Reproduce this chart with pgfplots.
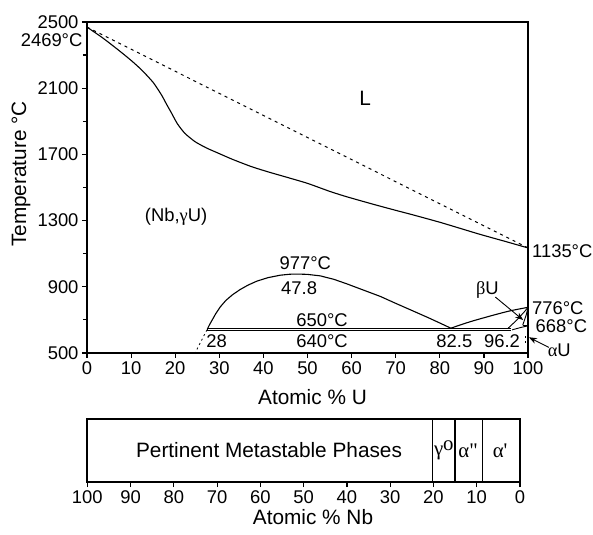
\documentclass[border=0pt]{standalone}
\usepackage{pgfplots}
\pgfplotsset{compat=1.18}
\usepackage{fontspec}
\setmainfont{Liberation Sans}
\newfontfamily\grk{Liberation Serif}
\usetikzlibrary{arrows.meta}
\newcommand{\tk}{\fontsize{18.4bp}{22bp}\selectfont}
\newcommand{\lb}{\fontsize{20.8bp}{24bp}\selectfont}
\begin{document}
\begin{tikzpicture}
\path[use as bounding box] (0,0) rectangle (593bp,535bp);
\begin{axis}[at={(87bp,182bp)},anchor=south west,scale only axis,
  width=441bp,height=331bp,xmin=0,xmax=100,ymin=500,ymax=2500,
  xtick={0,10,...,100},ytick={500,900,...,2500},minor ytick={700,1100,...,2300},
  tick pos=left,tick align=outside,major tick length=5bp,minor tick length=4bp,
  tick style={line width=1.2bp,black},ticklabel style={font=\tk},
  /pgf/number format/assume math mode=true,/pgf/number format/1000 sep={},
  clip=false,axis line style={line width=1.6bp}]
% liquidus (dashed)
\addplot[black,line width=1bp,dash pattern=on 3bp off 4bp] coordinates {(0,2469) (100,1135)};
% solidus
\addplot[black,line width=1.1bp,smooth,tension=0.4] coordinates {
(0,2469) (3.5,2405) (7.1,2331) (10,2268) (12.4,2210) (15,2135) (16.9,2059) (18,2005)
(19.2,1948) (20.5,1885) (22.2,1827) (24.5,1777) (27,1740) (29.8,1707) (33,1670)
(37.3,1626) (41,1595) (44.9,1565) (50,1525) (55,1477) (58.9,1444) (65,1398)
(70,1362) (74,1334) (80,1290) (85,1250) (89.1,1217) (95,1173) (100,1135)};
% miscibility gap dome
\addplot[black,line width=1.1bp] coordinates {
(27.3,645) (27.8,672) (28.4,700) (29.2,738) (30.2,778) (31.5,818) (33,852)
(34.7,883) (36.5,910) (38.5,934) (41,955) (43.8,970) (46,976) (47.8,977)
(50,975) (52.9,966) (56,945) (58.9,918) (62,887) (66.5,842) (70,800)
(74.1,752) (77.5,712) (80.1,680) (82.5,650)};
% beta U boundary
\addplot[black,line width=1.1bp,smooth] coordinates {(82.5,650) (86.9,689) (92.2,729) (96,755) (100,776)};
% monotectoid double line
\addplot[black,line width=0.9bp] coordinates {(27.3,651) (96.2,651)};
\addplot[black,line width=0.9bp] coordinates {(27.3,639) (96.2,639)};
\addplot[black,line width=0.9bp] coordinates {(27.3,639) (27.3,651)};
% small U-rich boundaries
\addplot[black,line width=0.9bp] coordinates {(95.5,650) (97.5,700) (99.2,750) (100,776)};
\addplot[black,line width=0.9bp] coordinates {(98.8,668) (99.6,730) (100,776)};
\addplot[black,line width=0.9bp] coordinates {(98.8,668) (100,668)};
\addplot[black,line width=0.9bp,smooth] coordinates {(96.4,640) (98.5,655) (100,664)};
\addplot[black,line width=0.8bp,dash pattern=on 2bp off 3bp] coordinates {(99.3,600) (99.3,560)};
\addplot[black,line width=0.8bp,dash pattern=on 2bp off 3bp] coordinates {(27.2,640) (24.6,505)};
% arrows
\draw[line width=0.9bp,-{Stealth[length=8bp,width=6bp]}] (axis cs:92.6,838) -- (axis cs:98.9,699);
\draw[line width=0.9bp,-{Stealth[length=8bp,width=6bp]}] (axis cs:104.7,534) -- (axis cs:100.2,595);
% frame
\draw[line width=1.6bp] (rel axis cs:0,0) rectangle (rel axis cs:1,1);
% labels
\node[font=\lb] at (axis cs:63.1,2041) {L};
\node[font=\tk] at (axis cs:20.2,1322) {(Nb,{\grk γ}U)};
\node[font=\tk] at (axis cs:49.5,1044) {977°C};
\node[font=\tk] at (axis cs:48.1,893) {47.8};
\node[font=\tk] at (axis cs:53.3,699) {650°C};
\node[font=\tk] at (axis cs:53.3,570) {640°C};
\node[font=\tk] at (axis cs:29.4,570) {28};
\node[font=\tk] at (axis cs:83.3,570) {82.5};
\node[font=\tk] at (axis cs:94.1,570) {96.2};
\node[font=\tk] at (axis cs:90.8,880) {{\grk β}U};
\node[font=\tk,anchor=west,inner sep=0pt] at (axis cs:100.9,769) {776°C};
\node[font=\tk,anchor=west,inner sep=0pt] at (axis cs:101.7,660) {668°C};
\node[font=\tk] at (axis cs:107.1,518) {{\grk α}U};
\node[font=\tk,anchor=west,inner sep=0pt] at (axis cs:100.9,1116) {1135°C};
\node[font=\tk,anchor=east,inner sep=0pt] at (axis cs:-1,2392) {2469°C};
\end{axis}
\node[font=\lb,rotate=90] at (21bp,361bp) {Temperature °C};
\node[font=\lb] at (312.5bp,138bp) {Atomic \% U};
\begin{axis}[at={(87.3bp,53bp)},anchor=south west,scale only axis,
  width=432.7bp,height=63bp,xmin=0,xmax=100,ymin=0,ymax=1,x dir=reverse,
  xtick={0,10,...,100},ytick=\empty,tick pos=left,tick align=outside,
  major tick length=5bp,tick style={line width=1.2bp,black},ticklabel style={font=\tk},
  /pgf/number format/assume math mode=true,clip=false,axis line style={line width=1.6bp}]
\draw[line width=1.4bp] (axis cs:20.2,0) -- (axis cs:20.2,1);
\draw[line width=1.4bp] (axis cs:15,0) -- (axis cs:15,1);
\draw[line width=1.4bp] (axis cs:8.7,0) -- (axis cs:8.7,1);
\draw[line width=1.6bp] (rel axis cs:0,0) rectangle (rel axis cs:1,1);
\node[font=\lb] at (axis cs:58,0.5) {Pertinent Metastable Phases};
\node[font=\lb] at (axis cs:17.6,0.5) {{\grk γ}\raisebox{0.45ex}{\grk o}};
\node[font=\lb] at (axis cs:12.0,0.5) {{\grk α"}};
\node[font=\lb] at (axis cs:4.6,0.5) {{\grk α'}};
\end{axis}
\node[font=\lb] at (313bp,18bp) {Atomic \% Nb};
\end{tikzpicture}
\end{document}
